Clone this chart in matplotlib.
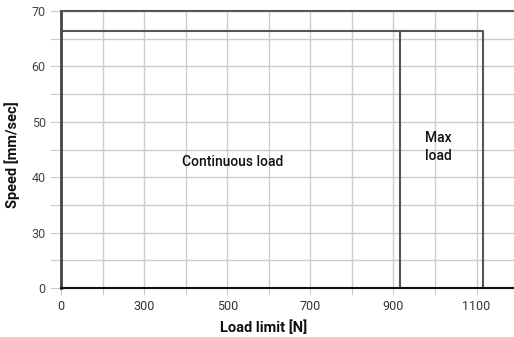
import matplotlib.pyplot as plt
import numpy as np

# axis break: first tick of each axis is shown as "0"
x_start, x_end = 100, 1190
y_start, y_end = 20, 70
x_tick_pos = [100, 300, 500, 700, 900, 1100]
x_tick_labels = ["0", "300", "500", "700", "900", "1100"]
y_tick_pos = [20, 30, 40, 50, 60, 70]
y_tick_labels = ["0", "30", "40", "50", "60", "70"]

continuous_load = 915   # N
max_load = 1115         # N
max_speed = 66.3        # mm/sec

plt.rcParams['font.family'] = ['Roboto', 'DejaVu Sans']

fig = plt.figure(figsize=(5.14, 3.37), dpi=100)
ax = fig.add_axes([61 / 514, 1 - 288 / 337, 1 - 61 / 514, (288 - 11) / 337])

ax.set_xlim(x_start, x_end)
ax.set_ylim(y_start, y_end)

# grid every 100 N / 5 mm/sec, labels only on some
xg = np.arange(x_start, x_end, 100)
yg = np.arange(y_start, y_end + 1, 5)
ax.set_xticks(xg)
ax.set_xticklabels([x_tick_labels[x_tick_pos.index(v)] if v in x_tick_pos else "" for v in xg])
ax.set_yticks(yg)
ax.set_yticklabels([y_tick_labels[y_tick_pos.index(v)] if v in y_tick_pos else "" for v in yg])
ax.grid(True, color='#cccccc', linewidth=1)
ax.set_axisbelow(True)

ax.tick_params(axis='x', length=5, color='#cccccc', labelsize=9, labelcolor='#333333', pad=4)
ax.tick_params(axis='y', length=8, color='#cccccc', labelsize=9, labelcolor='#444444', pad=3)
ax.xaxis.get_major_ticks()[0].tick1line.set_color('#444444')
ax.yaxis.get_major_ticks()[0].tick1line.set_color('#222222')
ax.yaxis.get_major_ticks()[-1].tick1line.set_color('#555555')

ax.spines['right'].set_visible(False)
ax.spines['top'].set_color('#555555')
ax.spines['top'].set_linewidth(1.5)
ax.spines['left'].set_color('#444444')
ax.spines['left'].set_linewidth(2)
ax.spines['bottom'].set_color('#111111')
ax.spines['bottom'].set_linewidth(1.5)

# load envelopes
ax.plot([x_start, max_load, max_load], [max_speed, max_speed, y_start], color='#555555', lw=1.5)
ax.plot([continuous_load, continuous_load], [y_start, max_speed], color='#555555', lw=1.5)

ax.text((x_start + continuous_load) / 2 + 5, 42.8, "Continuous load", ha='center', va='center',
        fontsize=10, fontweight='medium', color='#111111')
ax.text(continuous_load + 62, 45.5, "Max\nload", ha='left', va='center',
        fontsize=10, fontweight='medium', color='#111111', linespacing=1.35)

ax.set_xlabel("Load limit [N]", fontsize=10.5, fontweight='bold', color='#111111')
ax.xaxis.set_label_coords((264 - 61) / (514 - 61), -0.115)
ax.set_ylabel("Speed [mm/sec]", fontsize=10.5, fontweight='bold', color='#111111')
ax.yaxis.set_label_coords(-0.09, 0.48)

fig.savefig("out.png", dpi=100)
